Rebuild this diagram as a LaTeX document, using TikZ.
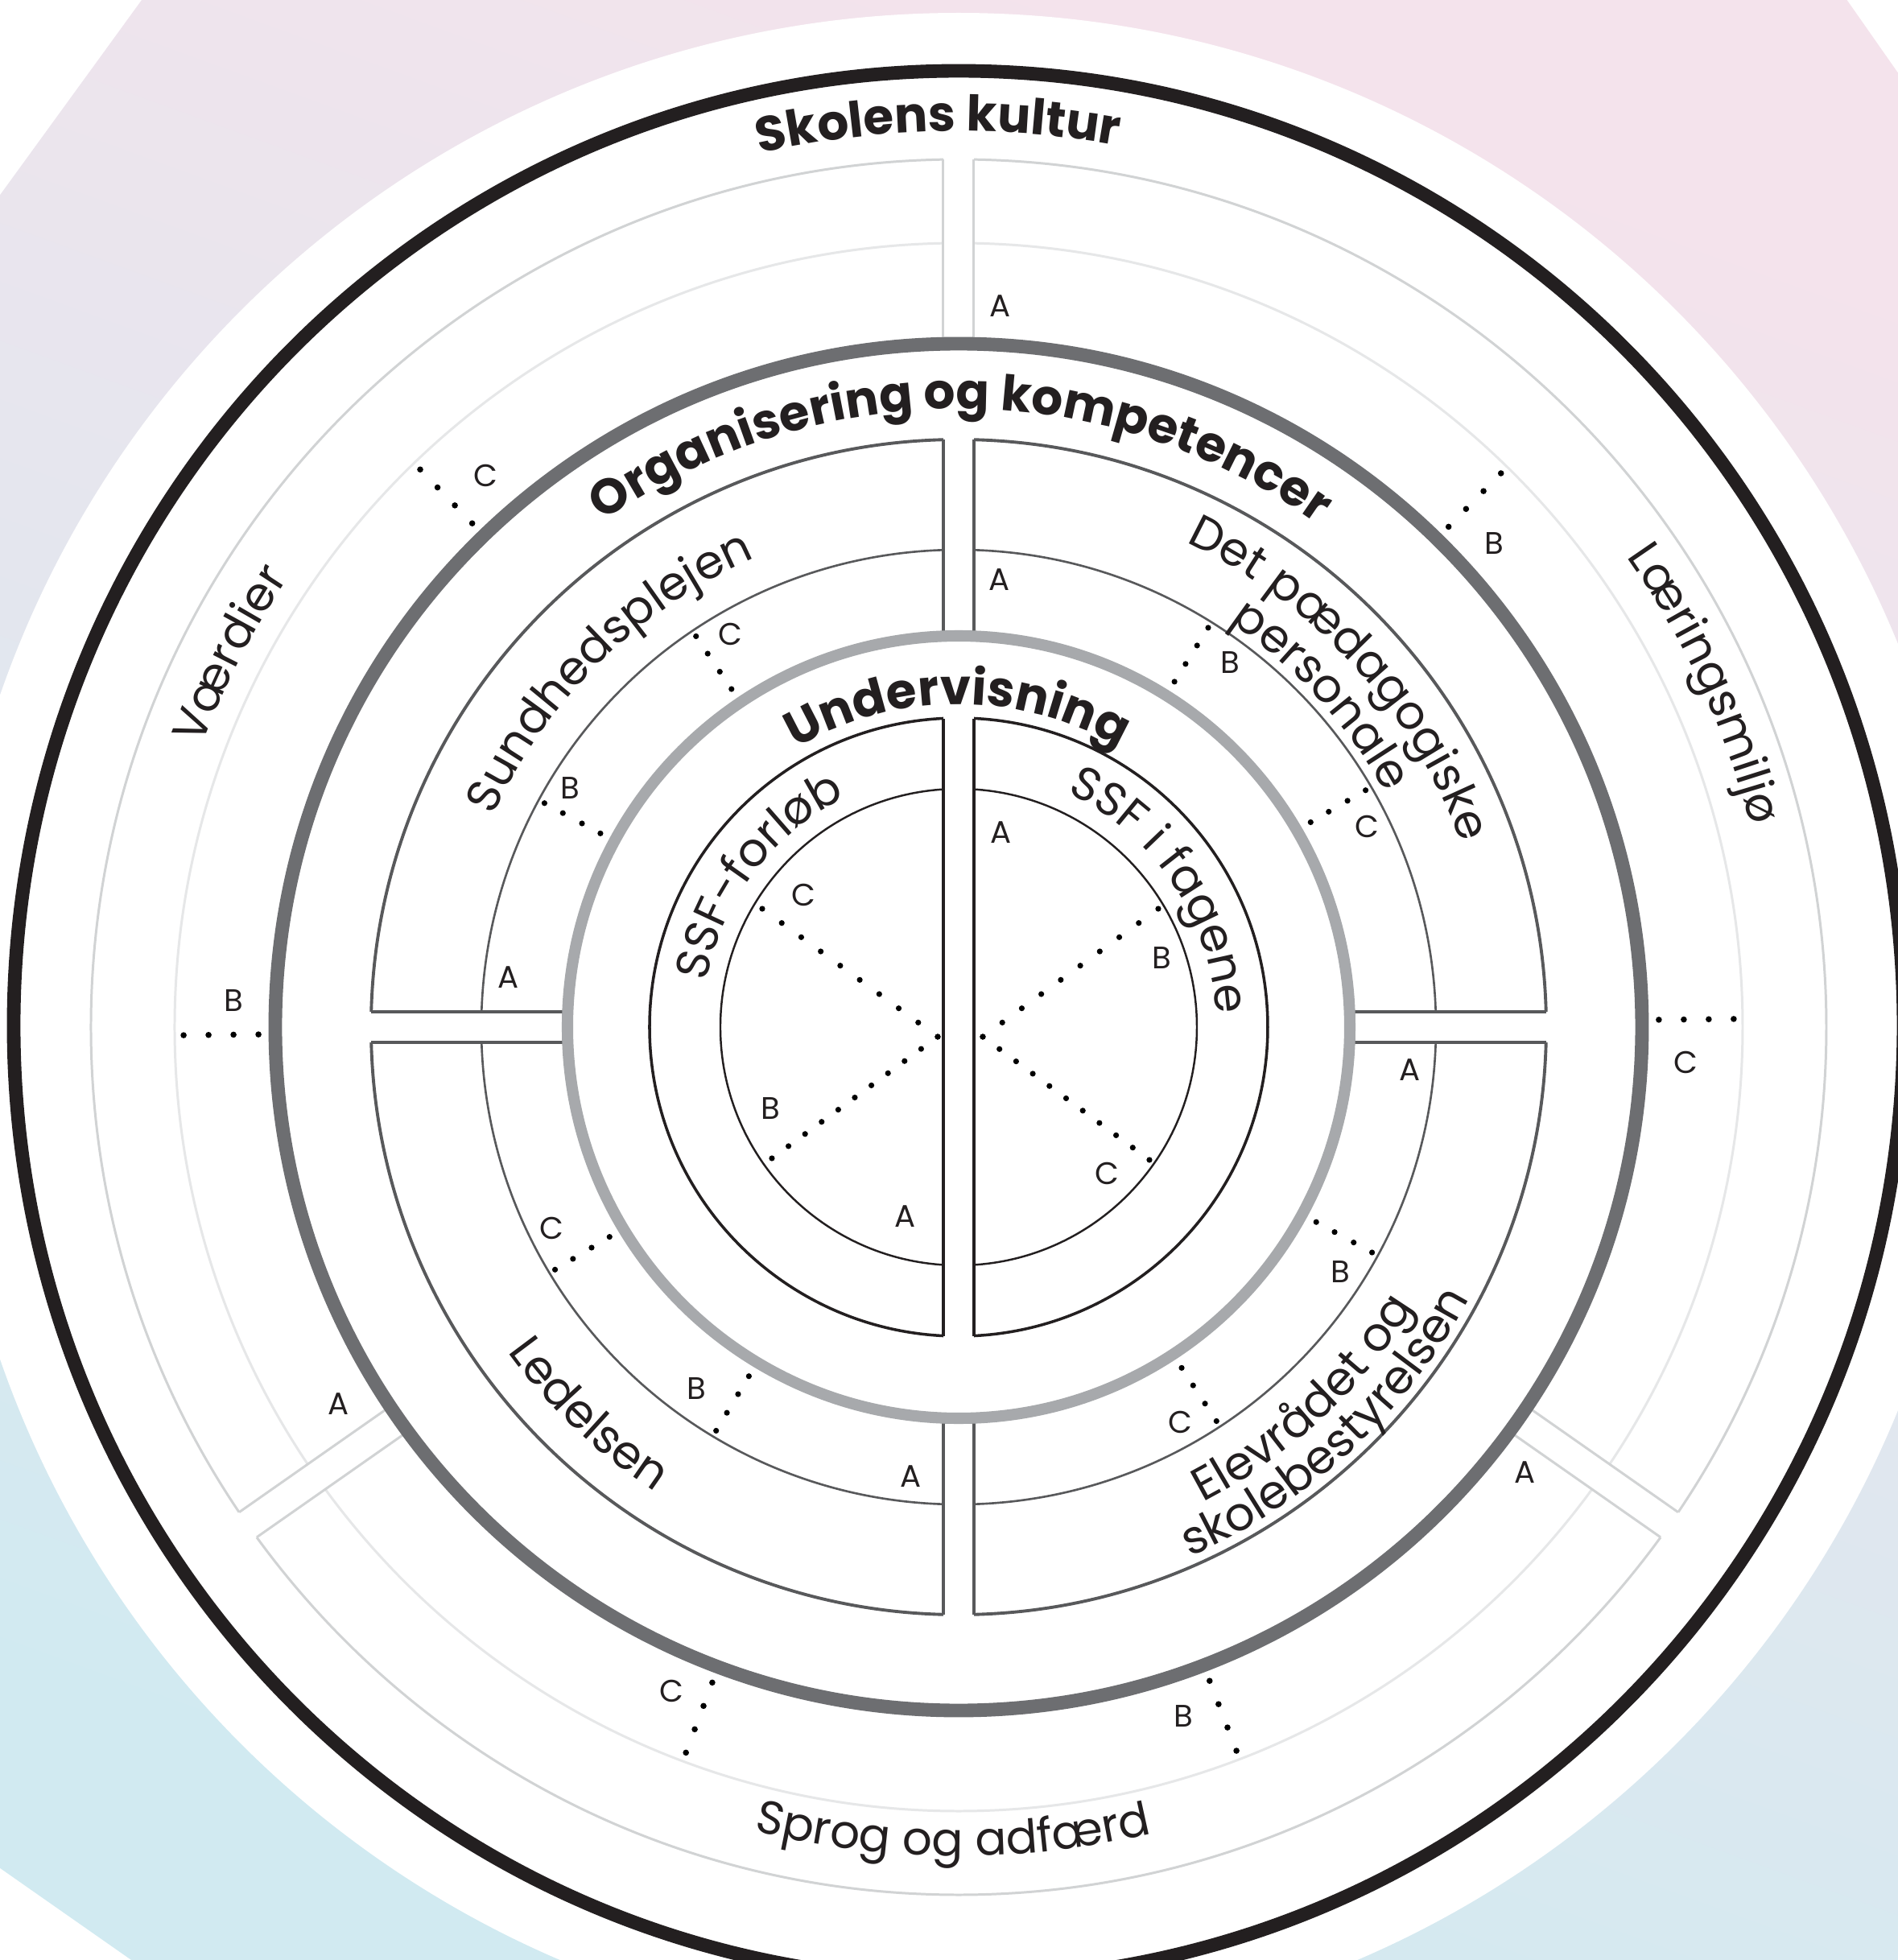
\documentclass[tikz,border=0pt]{standalone}
\usepackage{fontspec}
\setmainfont{Poppins}
\usetikzlibrary{decorations.text,calc}

\definecolor{ink}{HTML}{231F20}
\definecolor{ringdark}{HTML}{6D6E71}
\definecolor{ringgrey}{HTML}{A7A9AC}
\definecolor{orgline}{HTML}{58595B}
\definecolor{kulturline}{HTML}{D1D3D4}
\definecolor{kulturmid}{HTML}{E6E7E8}
\definecolor{bgpink}{HTML}{F4E3EC}
\definecolor{bgblue}{HTML}{D1EAF1}

\newcommand\titlefont{\fontsize{17.4}{21}\selectfont\bfseries}
\newcommand\blockfont{\fontsize{16.5}{19}\selectfont}
\newcommand\abcfont{\fontsize{11}{13}\selectfont}

\begin{document}
\begin{tikzpicture}[line join=miter]
  \tikzstyle{abc}=[font=\abcfont, text=ink, inner sep=0pt]
  \tikzstyle{kultur}=[draw=kulturline, line width=0.85pt]
  \tikzstyle{orgblock}=[draw=orgline, line width=1.1pt]
  \tikzstyle{undblock}=[draw=ink, line width=1pt]
  \tikzstyle{gapbar}=[fill=white, draw=none]
  \useasboundingbox (-11.91,-11.59) rectangle (11.67,12.76);
  \clip (-11.91,-11.59) rectangle (11.67,12.76);

  % background
  \begin{scope}
    \clip (0.64,27.61) -- (-21.92,-3.44) -- (3.92,-21.53) -- (22.23,-3.23) -- cycle;
    \shade[top color=bgpink, bottom color=bgblue, shading angle=-20]
      (-11.91,-11.59) rectangle (11.67,12.76);
  \end{scope}
  \fill[white] (0,0) circle (12.6);

  % Skolens kultur
  \draw[kulturmid, line width=0.85pt] (0,0) circle (9.74);
  \draw[kultur] (0,0) circle (10.78);
  \foreach \a in {90,215,325} {
    \begin{scope}[rotate=\a]
      \fill[gapbar] (8.3,-0.19) rectangle (10.95,0.19);
      \draw[kultur] (8.49,0.19) -- (10.778,0.19);
      \draw[kultur] (8.49,-0.19) -- (10.778,-0.19);
    \end{scope}
  }
  \draw[ringdark, line width=4.8pt] (0,0) circle (8.49);

  % Organisering og kompetencer
  \draw[orgline, line width=0.75pt] (0,0) circle (5.93);
  \draw[orgblock] (0,0) circle (7.30);
  \foreach \a in {0,90,180,270} {
    \begin{scope}[rotate=\a]
      \fill[gapbar] (4.7,-0.19) rectangle (7.4,0.19);
      \draw[orgblock] (4.86,0.19) -- (7.2975,0.19);
      \draw[orgblock] (4.86,-0.19) -- (7.2975,-0.19);
    \end{scope}
  }
  \draw[ringgrey, line width=4pt] (0,0) circle (4.86);

  % Undervisning
  \draw[ink, line width=0.7pt] (0,0) circle (2.96);
  \draw[undblock] (0,0) circle (3.84);
  \fill[gapbar] (-0.19,-3.9) rectangle (0.19,3.9);
  \draw[undblock] (-0.19,-3.835) -- (-0.19,3.835);
  \draw[undblock] (0.19,-3.835) -- (0.19,3.835);

  \draw[ink, line width=4.8pt] (0,0.02) ellipse [x radius=11.74, y radius=11.86];

  % dots
  \foreach \a in {45.6,0.6,180.6,134,291,249.4}
    \foreach \r in {8.70,9.01,9.32,9.63}
      \fill (\a:\r) circle (0.038);
  \foreach \a in {151.6,123.9,58,30.2,-28.6,-56.8,239,211}
    \foreach \r in {5.06,5.32,5.59,5.85}
      \fill (\a:\r) circle (0.036);
  \coordinate (hubL) at (-0.26,-0.12);
  \coordinate (hubR) at (0.30,-0.12);
  \coordinate (endLC) at (-2.44,1.47);
  \coordinate (endLB) at (-2.32,-1.63);
  \coordinate (endRB) at (2.48,1.47);
  \coordinate (endRC) at (2.37,-1.65);
  \foreach \i in {0,...,9} \fill ($(hubL)!\i/9!(endLC)$) circle (0.036);
  \foreach \i in {0,...,10} \fill ($(hubL)!\i/10!(endLB)$) circle (0.036);
  \foreach \i in {0,...,9} \fill ($(hubR)!\i/9!(endRB)$) circle (0.036);
  \foreach \i in {0,...,10} \fill ($(hubR)!\i/10!(endRC)$) circle (0.036);

  % A B C
  \node[abc] (laerA) at (0.52,8.96) {A};
  \node[abc] (laerB) at (6.65,6.01) {B};
  \node[abc] (laerC) at (9.03,-0.44) {C};
  \node[abc] (vaerA) at (-7.70,-4.68) {A};
  \node[abc] (vaerB) at (-9.01,0.33) {B};
  \node[abc] (vaerC) at (-5.88,6.85) {C};
  \node[abc] (sprogA) at (7.04,-5.53) {A};
  \node[abc] (sprogB) at (2.79,-8.56) {B};
  \node[abc] (sprogC) at (-3.57,-8.25) {C};
  \node[abc] (sundA) at (-5.59,0.62) {A};
  \node[abc] (sundB) at (-4.83,2.97) {B};
  \node[abc] (sundC) at (-2.84,4.88) {C};
  \node[abc] (persA) at (0.51,5.56) {A};
  \node[abc] (persB) at (3.37,4.53) {B};
  \node[abc] (persC) at (5.07,2.49) {C};
  \node[abc] (elevA) at (5.61,-0.53) {A};
  \node[abc] (elevB) at (4.74,-3.04) {B};
  \node[abc] (elevC) at (2.75,-4.91) {C};
  \node[abc] (ledA) at (-0.59,-5.58) {A};
  \node[abc] (ledB) at (-3.26,-4.49) {B};
  \node[abc] (ledC) at (-5.06,-2.50) {C};
  \node[abc] (forlA) at (-0.66,-2.35) {A};
  \node[abc] (forlB) at (-2.34,-1.01) {B};
  \node[abc] (forlC) at (-1.93,1.64) {C};
  \node[abc] (fagA) at (0.53,2.42) {A};
  \node[abc] (fagB) at (2.52,0.86) {B};
  \node[abc] (fagC) at (1.84,-1.82) {C};

  % titles along the rings
  \path[decorate, decoration={text along path, text align=center,
      text={|\titlefont\color{ink}|Skolens kultur}}]
    (141.3:11.13) arc[start angle=141.3, end angle=41.3, radius=11.13];
  \path[decorate, decoration={text along path, text align=center,
      text={|\titlefont\color{ink}|Organisering og kompetencer}}]
    (159.8:7.68) arc[start angle=159.8, end angle=19.8, radius=7.68];
  \path[decorate, decoration={text along path, text align=center,
      text={|\titlefont\color{ink}|Undervisning}}]
    (160.2:4.01) arc[start angle=160.2, end angle=20.2, radius=4.01];

  % block names
  \path[decorate, decoration={text along path, text align=center,
      text={|\blockfont\color{ink}|Værdier}}]
    (192.9:10.03) arc[start angle=192.9, end angle=112.9, radius=10.03];
  \path[decorate, decoration={text along path, text align=center,
      text={|\blockfont\color{ink}|Læringsmiljø}}]
    (64.7:10.15) arc[start angle=64.7, end angle=-15.3, radius=10.15];
  \path[decorate, decoration={text along path, text align=center,
      text={|\blockfont\color{ink}|Sprog og adfærd}}]
    (219.6:10.3) arc[start angle=219.6, end angle=319.6, radius=10.3];
  \path[decorate, decoration={text along path, text align=center,
      text={|\blockfont\color{ink}|Sundhedsplejen}}]
    (179.5:6.35) arc[start angle=179.5, end angle=89.5, radius=6.35];
  \path[decorate, decoration={text along path, text align=center,
      text={|\blockfont\color{ink}|Det pædagogiske}}]
    (87.5:6.65) arc[start angle=87.5, end angle=-2.5, radius=6.65];
  \path[decorate, decoration={text along path, text align=center,
      text={|\blockfont\color{ink}|personale}}]
    (87.5:6.05) arc[start angle=87.5, end angle=-2.5, radius=6.05];
  \path[decorate, decoration={text along path, text align=center,
      text={|\blockfont\color{ink}|Ledelsen}}]
    (181.3:6.9) arc[start angle=181.3, end angle=271.3, radius=6.9];
  \path[decorate, decoration={text along path, text align=center,
      text={|\blockfont\color{ink}|Elevrådet og}}]
    (-92.2:6.64) arc[start angle=-92.2, end angle=-2.2, radius=6.64];
  \path[decorate, decoration={text along path, text align=center,
      text={|\blockfont\color{ink}|skolebestyrelsen}}]
    (-92.2:7.18) arc[start angle=-92.2, end angle=-2.2, radius=7.18];
  \path[decorate, decoration={text along path, text align=center,
      text={|\blockfont\color{ink}|SSF-forløb}}]
    (218:3.18) arc[start angle=218, end angle=68, radius=3.18];
  \path[decorate, decoration={text along path, text align=center,
      text={|\blockfont\color{ink}|SSF i fagene}}]
    (109:3.2) arc[start angle=109, end angle=-41, radius=3.2];
\end{tikzpicture}
\end{document}
